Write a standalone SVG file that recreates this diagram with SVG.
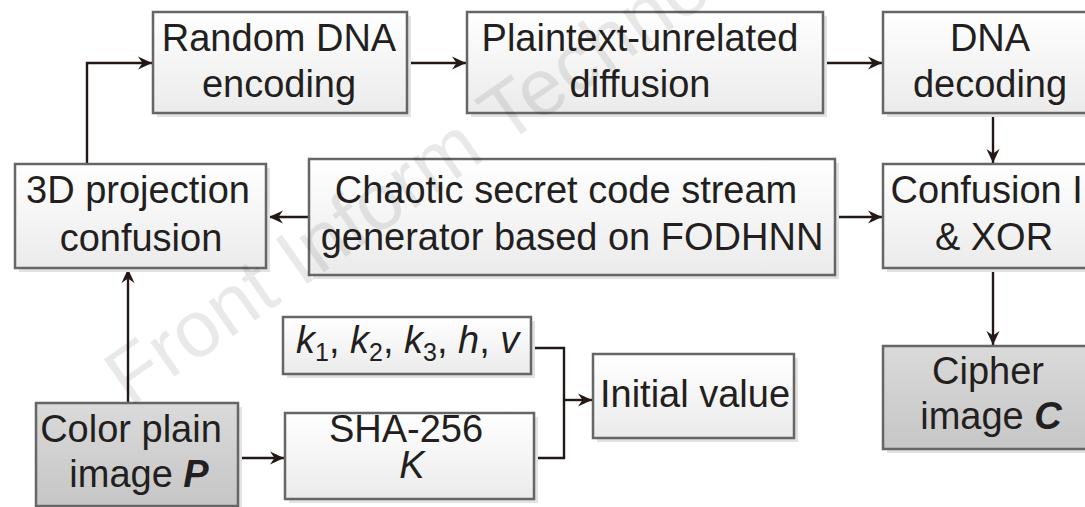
<svg xmlns="http://www.w3.org/2000/svg" width="1085" height="507" viewBox="0 0 1085 507">
<defs>
<linearGradient id="gw" x1="0" y1="0" x2="0" y2="1"><stop offset="0" stop-color="#ffffff"/><stop offset="1" stop-color="#ebebeb"/></linearGradient>
<linearGradient id="gg" x1="0" y1="0" x2="0" y2="1"><stop offset="0" stop-color="#dadada"/><stop offset="1" stop-color="#c6c6c6"/></linearGradient>
<marker id="ah" markerUnits="userSpaceOnUse" markerWidth="16" markerHeight="16" refX="14" refY="8" orient="auto"><path d="M0,1.5 L14,8 L0,14.5 L4.5,8 Z" fill="#231815"/></marker>
<style>
.sh{fill:#e2e2e2}
.bw{fill:url(#gw);stroke:#666;stroke-width:2.5}
.bg{fill:url(#gg);stroke:#666;stroke-width:2.5}
.t{font-family:"Liberation Sans",Arial,sans-serif;font-size:38px;fill:#231f20;text-anchor:middle}
.c{fill:none;stroke:#231815;stroke-width:2.4}
.a{marker-end:url(#ah)}
.wm{font-family:"Liberation Sans",Arial,sans-serif;font-size:80px;fill:#000;fill-opacity:0.085}
</style>
</defs>
<rect width="1085" height="507" fill="#fff"/>
<g id="connectors">
<polyline class="c a" points="87,164 87,63 152,63"/>
<line class="c a" x1="407" y1="63" x2="466" y2="63"/>
<line class="c a" x1="823" y1="63" x2="882" y2="63"/>
<line class="c a" x1="993" y1="113" x2="993" y2="163"/>
<line class="c a" x1="309" y1="217" x2="269" y2="217"/>
<line class="c a" x1="836" y1="217" x2="882" y2="217"/>
<line class="c a" x1="993" y1="268" x2="993" y2="345"/>
<line class="c a" x1="128" y1="403" x2="128" y2="269"/>
<line class="c a" x1="238" y1="458" x2="284" y2="458"/>
<polyline class="c" points="531,348 564,348 564,458 534,458"/>
<line class="c a" x1="564" y1="400" x2="592" y2="400"/>
</g>
<g id="random-dna-encoding">
<rect class="sh" x="157" y="16" width="254" height="101"/>
<rect class="bw" x="153" y="12" width="254" height="101"/>
<text class="t" x="279" y="51">Random DNA</text>
<text class="t" x="279" y="97">encoding</text>
</g>
<g id="plaintext-unrelated-diffusion">
<rect class="sh" x="471" y="16" width="356" height="101"/>
<rect class="bw" x="467" y="12" width="356" height="101"/>
<text class="t" x="640" y="51">Plaintext-unrelated</text>
<text class="t" x="640" y="97">diffusion</text>
</g>
<g id="dna-decoding">
<rect class="sh" x="887" y="16" width="214" height="101"/>
<rect class="bw" x="883" y="12" width="214" height="101"/>
<text class="t" x="990" y="51">DNA</text>
<text class="t" x="990" y="97">decoding</text>
</g>
<g id="projection-confusion">
<rect class="sh" x="19" y="168" width="251" height="104"/>
<rect class="bw" x="15" y="164" width="251" height="104"/>
<text class="t" x="138" y="203">3D projection</text>
<text class="t" x="141" y="251">confusion</text>
</g>
<g id="chaotic-generator">
<rect class="sh" x="313" y="163" width="526" height="116"/>
<rect class="bw" x="309" y="159" width="526" height="116"/>
<text class="t" x="566" y="203">Chaotic secret code stream</text>
<text class="t" x="572" y="250">generator based on FODHNN</text>
</g>
<g id="confusion-xor">
<rect class="sh" x="887" y="168" width="214" height="104"/>
<rect class="bw" x="883" y="164" width="214" height="104"/>
<text class="t" x="992" y="203">Confusion II</text>
<text class="t" x="994" y="250">&amp; XOR</text>
</g>
<g id="parameters">
<rect class="sh" x="287" y="321" width="248" height="57"/>
<rect class="bw" x="283" y="317" width="248" height="57"/>
<text class="t" x="296" y="353" style="text-anchor:start"><tspan font-style="italic">k</tspan><tspan font-size="25" dy="8">1</tspan><tspan dy="-8">, </tspan><tspan font-style="italic">k</tspan><tspan font-size="25" dy="8">2</tspan><tspan dy="-8">, </tspan><tspan font-style="italic">k</tspan><tspan font-size="25" dy="8">3</tspan><tspan dy="-8">, </tspan><tspan font-style="italic">h</tspan>, <tspan font-style="italic">v</tspan></text>
</g>
<g id="sha-256">
<rect class="sh" x="289" y="417" width="249" height="86"/>
<rect class="bw" x="285" y="413" width="249" height="86"/>
<text class="t" x="406" y="442">SHA-256</text>
<text class="t" x="412" y="478" font-style="italic">K</text>
</g>
<g id="initial-value">
<rect class="sh" x="597" y="358" width="201" height="84"/>
<rect class="bw" x="593" y="354" width="201" height="84"/>
<text class="t" x="695" y="407">Initial value</text>
</g>
<g id="color-plain-image">
<rect class="sh" x="40" y="407" width="202" height="103"/>
<rect class="bg" x="36" y="403" width="202" height="103"/>
<text class="t" x="131" y="442">Color plain</text>
<text class="t" x="139" y="487">image <tspan font-weight="bold" font-style="italic">P</tspan></text>
</g>
<g id="cipher-image">
<rect class="sh" x="887" y="350" width="214" height="103"/>
<rect class="bg" x="883" y="346" width="214" height="103"/>
<text class="t" x="988" y="384">Cipher</text>
<text class="t" x="991" y="429">image <tspan font-weight="bold" font-style="italic">C</tspan></text>
</g>
<text class="wm" transform="translate(130,408) rotate(-35)">Front Inform Technol Electron Eng</text>
</svg>
